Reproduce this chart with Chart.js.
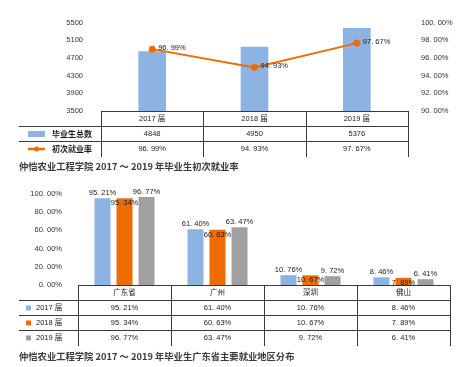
<!DOCTYPE html>
<html>
<head>
<meta charset="utf-8">
<script src="https://cdn.jsdelivr.net/npm/chart.js@4.4.0/dist/chart.umd.min.js"></script>
<style>
  body { margin: 0; background: #fff; width: 472px; height: 367px; position: relative; overflow: hidden; }
  canvas { position: absolute; left: 0; }
  #c1 { top: 0; }
  #c2 { top: 172px; }
  .cap { position: absolute; left: 19px; font: bold 9.3px "Noto Sans CJK SC", sans-serif; color: #3d3a36; white-space: nowrap; }
</style>
</head>
<body>
<canvas id="c1" width="472" height="160"></canvas>
<div class="cap" style="top:159px">仲恺农业工程学院 2017 ～ 2019 年毕业生初次就业率</div>
<canvas id="c2" width="472" height="178"></canvas>
<div class="cap" style="top:349px">仲恺农业工程学院 2017 ～ 2019 年毕业生广东省主要就业地区分布</div>
<script>
// 上图：毕业生总数 + 初次就业率
const years = ['2017 届', '2018 届', '2019 届'];
const graduates = [4848, 4950, 5376];
const employRate = [96.99, 94.93, 97.67];
const seriesNames1 = ['毕业生总数', '初次就业率'];

// 下图：广东省主要就业地区
const regions = ['广东省', '广州', '深圳', '佛山'];
const rate2017 = [95.21, 61.40, 10.76, 8.46];
const rate2018 = [95.34, 60.63, 10.67, 7.89];
const rate2019 = [96.77, 63.47, 9.72, 6.41];
const seriesNames2 = ['2017 届', '2018 届', '2019 届'];

const BLUE = '#8db3e2';
const ORANGE = '#ee6c00';
const GRAY = '#a0a0a0';
const TXT = '#1a1a1a';
const FONT = '"Liberation Sans", "Noto Sans CJK SC", sans-serif';

// 百分比写法和原图一样，小数点后带空格
function pct(v) {
    return v.toFixed(2).replace('.', '. ') + '%';
}

function line(ctx, x1, y1, x2, y2) {
    ctx.beginPath();
    ctx.moveTo(x1, y1);
    ctx.lineTo(x2, y2);
    ctx.stroke();
}

// 在图表下方画数据表，列宽跟着 x 轴走
function drawTable(chart, rows, legendLeft) {
    const ctx = chart.ctx;
    const x = chart.scales.x;
    const n = x.ticks.length;
    const colW = (x.right - x.left) / n;
    const top = Math.round(chart.chartArea.bottom);
    const rowH = 15;
    const L = legendLeft, C = Math.round(x.left), R = Math.round(x.right);
    const bottom = top + rowH * (rows.length + 1);

    ctx.save();
    ctx.strokeStyle = '#3a3a3a';
    ctx.lineWidth = 1;
    line(ctx, C, top + 0.5, R + 1, top + 0.5);
    for (let r = 1; r <= rows.length; r++) {
        line(ctx, L, top + r * rowH + 0.5, R + 1, top + r * rowH + 0.5);
    }
    for (let i = 0; i <= n; i++) {
        const cx = Math.round(x.left + i * colW) + 0.5;
        line(ctx, cx, top, cx, bottom + 1);
    }

    ctx.fillStyle = TXT;
    ctx.textAlign = 'center';
    ctx.textBaseline = 'middle';
    ctx.font = '7.5px ' + FONT;
    chart.data.labels.forEach((lab, i) => {
        ctx.fillText(lab, x.getPixelForValue(i), top + rowH / 2 + 0.5);
    });
    rows.forEach((row, r) => {
        const cy = top + (r + 1) * rowH + rowH / 2 + 0.5;
        row.values.forEach((v, i) => {
            ctx.fillStyle = TXT;
            ctx.textAlign = 'center';
            ctx.font = '7.5px ' + FONT;
            ctx.fillText(v, x.getPixelForValue(i), cy);
        });
        row.legend(ctx, cy);
    });
    ctx.restore();
}

const topTable = {
    id: 'topTable',
    afterDraw(chart) {
        drawTable(chart, [
            {
                values: graduates.map(String),
                legend(ctx, cy) {
                    ctx.fillStyle = BLUE;
                    ctx.fillRect(28, cy - 3, 17, 6);
                    ctx.fillStyle = TXT;
                    ctx.textAlign = 'left';
                    ctx.font = 'bold 8px "Noto Sans CJK SC", sans-serif';
                    ctx.fillText(seriesNames1[0], 52, cy);
                }
            },
            {
                values: employRate.map(pct),
                legend(ctx, cy) {
                    ctx.strokeStyle = ORANGE;
                    ctx.lineWidth = 2.5;
                    line(ctx, 28, cy, 45, cy);
                    ctx.fillStyle = ORANGE;
                    ctx.beginPath();
                    ctx.arc(36.5, cy, 2.5, 0, Math.PI * 2);
                    ctx.fill();
                    ctx.fillStyle = TXT;
                    ctx.textAlign = 'left';
                    ctx.font = 'bold 8px "Noto Sans CJK SC", sans-serif';
                    ctx.fillText(seriesNames1[1], 52, cy);
                }
            }
        ], 19);

        // 折线点旁边的百分比
        const ctx = chart.ctx;
        const meta = chart.getDatasetMeta(1);
        ctx.save();
        ctx.fillStyle = TXT;
        ctx.font = '7.5px ' + FONT;
        ctx.textAlign = 'left';
        ctx.textBaseline = 'middle';
        meta.data.forEach((pt, i) => {
            ctx.fillText(pct(employRate[i]), pt.x + 6, pt.y - 1);
        });
        ctx.restore();
    }
};

new Chart(document.getElementById('c1'), {
    type: 'bar',
    data: {
        labels: years,
        datasets: [
            {
                type: 'bar',
                label: seriesNames1[0],
                data: graduates,
                backgroundColor: BLUE,
                yAxisID: 'y',
                barPercentage: 0.27,
                categoryPercentage: 1,
                order: 1
            },
            {
                type: 'line',
                label: seriesNames1[1],
                data: employRate,
                borderColor: ORANGE,
                backgroundColor: ORANGE,
                borderWidth: 2,
                pointRadius: 3.5,
                pointBackgroundColor: ORANGE,
                pointBorderWidth: 0,
                yAxisID: 'y1',
                order: 0
            }
        ]
    },
    options: {
        responsive: false,
        animation: false,
        devicePixelRatio: 1,
        layout: { padding: { top: 19, bottom: 49, left: 0, right: 0 } },
        plugins: { legend: { display: false }, tooltip: { enabled: false } },
        scales: {
            x: { display: false, offset: true },
            y: {
                position: 'left',
                min: 3500, max: 5500,
                ticks: { stepSize: 400, padding: 18, color: '#333', font: { size: 7.5, family: FONT }, callback: v => String(v) },
                grid: { display: false, drawTicks: false },
                border: { display: false },
                afterFit(s) { s.width = 101; }
            },
            y1: {
                position: 'right',
                min: 90, max: 100,
                ticks: { stepSize: 2, padding: 13, color: '#333', font: { size: 7.5, family: FONT }, callback: v => pct(v) },
                grid: { display: false, drawTicks: false },
                border: { display: false },
                afterFit(s) { s.width = 64; }
            }
        }
    },
    plugins: [topTable]
});

const bottomTable = {
    id: 'bottomTable',
    afterDraw(chart) {
        const colors = [BLUE, ORANGE, GRAY];
        const sets = [rate2017, rate2018, rate2019];
        drawTable(chart, sets.map((vals, k) => ({
            values: vals.map(pct),
            legend(ctx, cy) {
                ctx.fillStyle = colors[k];
                ctx.fillRect(26, cy - 2.5, 5, 5);
                ctx.fillStyle = TXT;
                ctx.textAlign = 'left';
                ctx.font = '7.5px ' + FONT;
                ctx.fillText(seriesNames2[k], 36, cy);
            }
        })), 19);

        // 柱子上的数值，2018 届的标签压在柱顶内侧
        const ctx = chart.ctx;
        ctx.save();
        ctx.fillStyle = TXT;
        ctx.font = '7.5px ' + FONT;
        ctx.textAlign = 'center';
        ctx.textBaseline = 'middle';
        chart.data.datasets.forEach((ds, k) => {
            chart.getDatasetMeta(k).data.forEach((bar, i) => {
                const dy = k === 1 ? 5 : -5;
                ctx.fillText(pct(ds.data[i]), bar.x, bar.y + dy);
            });
        });
        ctx.restore();
    }
};

new Chart(document.getElementById('c2'), {
    type: 'bar',
    data: {
        labels: regions,
        datasets: [
            { label: seriesNames2[0], data: rate2017, backgroundColor: BLUE },
            { label: seriesNames2[1], data: rate2018, backgroundColor: ORANGE },
            { label: seriesNames2[2], data: rate2019, backgroundColor: GRAY }
        ]
    },
    options: {
        responsive: false,
        animation: false,
        devicePixelRatio: 1,
        datasets: { bar: { categoryPercentage: 0.71, barPercentage: 0.727 } },
        layout: { padding: { top: 22, bottom: 65, left: 0, right: 22 } },
        plugins: { legend: { display: false }, tooltip: { enabled: false } },
        scales: {
            x: { display: false, offset: true },
            y: {
                min: 0, max: 100,
                ticks: { stepSize: 20, padding: 16, color: '#333', font: { size: 7.5, family: FONT }, callback: v => pct(v) },
                grid: { display: false, drawTicks: false },
                border: { display: false },
                afterFit(s) { s.width = 78; }
            }
        }
    },
    plugins: [bottomTable]
});
</script>
</body>
</html>
